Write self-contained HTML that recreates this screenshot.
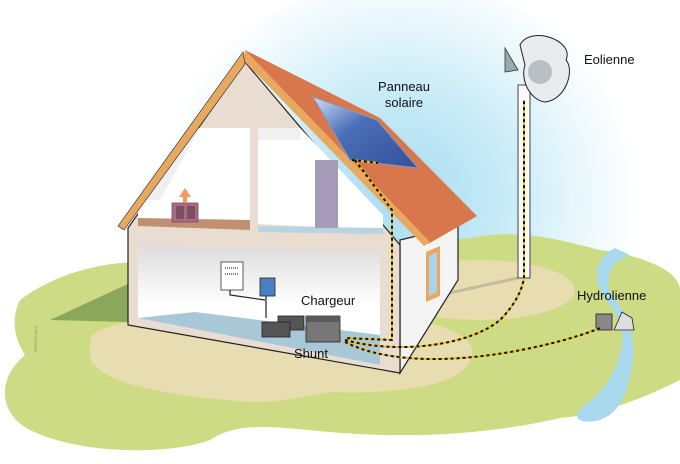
<!DOCTYPE html>
<html><head><meta charset="utf-8"><style>
html,body{margin:0;padding:0;background:#fff;width:680px;height:464px;overflow:hidden}
text{font-family:"Liberation Sans",sans-serif;fill:#111}
</style></head><body>
<svg width="680" height="464" viewBox="0 0 680 464" xmlns="http://www.w3.org/2000/svg">
<defs>
<radialGradient id="sky" cx="400" cy="200" r="240" gradientUnits="userSpaceOnUse">
<stop offset="0" stop-color="#a8dcf0"/><stop offset="0.45" stop-color="#c8ebf7"/><stop offset="0.8" stop-color="#eef9fd"/><stop offset="1" stop-color="#fff"/>
</radialGradient>
<linearGradient id="room" x1="0" y1="0" x2="0" y2="1"><stop offset="0" stop-color="#dcdcdc"/><stop offset="0.5" stop-color="#fff"/></linearGradient>
<linearGradient id="pan" x1="0" y1="0" x2="1" y2="1"><stop offset="0" stop-color="#cfe0f5"/><stop offset="0.4" stop-color="#4a6fb8"/><stop offset="1" stop-color="#34509a"/></linearGradient>
</defs>
<rect width="680" height="464" fill="#fff"/>
<ellipse cx="400" cy="200" rx="240" ry="220" fill="url(#sky)"/>
<!-- ground -->
<path d="M20,300 C60,270 110,262 140,262 L470,238 C520,228 560,240 600,250 C640,255 680,270 680,290 L680,380 C640,400 600,415 560,418 C500,432 420,440 330,432 C280,428 240,420 210,440 C170,455 80,455 30,430 C0,415 -5,380 25,355 C15,340 10,320 20,300 Z" fill="#cddc84"/>
<path d="M50,320 L130,283 L130,322 Z" fill="#8ba85a"/>
<path d="M90,340 C90,320 200,310 300,312 C420,312 470,330 472,350 C475,380 420,395 330,392 C290,400 260,405 230,400 C160,395 90,380 90,355 Z" fill="#e8ddb0"/>
<ellipse cx="480" cy="290" rx="95" ry="30" fill="#e8ddb0"/>
<!-- river -->
<path d="M615,248 C600,255 592,270 600,290 C612,310 625,320 622,345 C618,370 605,390 585,405 C568,418 580,425 600,420 C622,412 628,390 632,365 C638,335 625,312 610,292 C604,278 610,262 630,255 Z" fill="#a8d9ef"/>
<path d="M518,278 L440,295" stroke="#a8a890" stroke-width="3" opacity="0.6"/>
<!-- house side wall -->
<path d="M400,240 L458,226 L458,280 L400,373 Z" fill="#f4f4f4" stroke="#222" stroke-width="1.2"/>
<path d="M426,252 L440,246 L440,296 L426,302 Z" fill="#e8a860"/>
<path d="M429,256 L437,252 L437,292 L429,296 Z" fill="#a8d4ec"/>
<!-- front facade -->
<path d="M128,228 L245,62 L400,245 L400,373 L128,325 Z" fill="#e8ddd0" stroke="#222" stroke-width="1.2"/>
<!-- upper rooms -->
<path d="M138,222 L138,200 L190,128 L250,128 L250,224 Z" fill="#fff"/>
<path d="M258,224 L258,128 L300,128 L383,215 L383,230 Z" fill="#fff"/>
<path d="M138,200 L190,128 L200,128 L160,200 Z" fill="#efefef"/>
<path d="M258,128 L300,128 L300,140 L258,140 Z" fill="#f0f0f0"/>
<path d="M138,218 L250,220 L250,230 L138,226 Z" fill="#c09070"/>
<path d="M258,226 L383,228 L383,234 L258,232 Z" fill="#b8d4e0"/>
<rect x="315" y="160" width="23" height="68" fill="#a59ab8"/>
<rect x="172" y="203" width="26" height="19" fill="#a86a8a" stroke="#7a4a60" stroke-width="0.8"/>
<rect x="176" y="206" width="8" height="13" fill="#7a5060"/><rect x="187" y="206" width="8" height="13" fill="#7a5060"/>
<path d="M179,197 L185,188 L191,197 Z" fill="#f09a60"/><rect x="183" y="197" width="4" height="6" fill="#f09a60"/>
<!-- lower room -->
<path d="M138,245 L380,252 L380,365 L138,318 Z" fill="url(#room)"/>
<path d="M138,318 L195,312 L380,335 L380,365 Z" fill="#a8c8d8"/>
<!-- roof -->
<path d="M245,50 L380,118 L477,216 L428,244 L245,60 Z" fill="#d8764c"/>
<path d="M245,50 L430,242 L424,246 L243,60 Z" fill="#e8a860"/>
<path d="M243,52 L118,226 L124,230 L245,64 Z" fill="#e8a860" stroke="#222" stroke-width="0.6"/>
<path d="M313,97 L377,120 L418,168 L350,160 Z" fill="url(#pan)" stroke="#8899bb" stroke-width="1"/>
<!-- equipment -->
<rect x="221" y="262" width="22" height="28" fill="#fff" stroke="#333" stroke-width="0.8"/>
<path d="M225,268 H239 M225,274 H239" stroke="#555" stroke-width="1.5" stroke-dasharray="1,1"/>
<rect x="260" y="278" width="15" height="18" fill="#4a80c0" stroke="#223" stroke-width="0.8"/>
<path d="M230,290 L230,295 L265,300 M266,296 L266,318" stroke="#222" stroke-width="1.2" fill="none"/>
<rect x="278" y="316" width="26" height="14" fill="#555" stroke="#222" stroke-width="0.8"/>
<rect x="262" y="322" width="28" height="15" fill="#555" stroke="#222" stroke-width="0.8"/>
<rect x="306" y="316" width="34" height="26" fill="#777" stroke="#222" stroke-width="0.8"/>
<rect x="306" y="316" width="34" height="6" fill="#5a5a5a"/>
<!-- tower -->
<rect x="518" y="85" width="12" height="193" fill="#fafafa" stroke="#444" stroke-width="1"/>
<path d="M505,48 L512,60 L518,70 L505,72 Z" fill="#9aa" stroke="#333" stroke-width="0.8"/>
<path d="M520,45 C530,25 575,40 566,60 C575,70 566,100 545,102 C530,100 520,80 525,65 Z" fill="#e9ecee" stroke="#222" stroke-width="1"/>
<circle cx="540" cy="72" r="12" fill="#b8bfc4"/>
<!-- hydro -->
<rect x="596" y="314" width="16" height="16" fill="#888" stroke="#222" stroke-width="0.8"/>
<path d="M614,330 L622,312 L632,318 L634,330 Z" fill="#ddd" stroke="#222" stroke-width="0.8"/>
<!-- cables -->
<g fill="none" stroke="#111" stroke-width="2">
<path d="M352,160 L378,163 M355,160 L392,210 L392,340 L345,338" stroke="#f0c020"/>
<path d="M352,160 L378,163 M355,160 L392,210 L392,340 L345,338" stroke-dasharray="3,3"/>
<path d="M345,340 C400,355 470,345 500,320 C515,305 522,290 524,278 L524,100" stroke="#f0c020"/>
<path d="M345,340 C400,355 470,345 500,320 C515,305 522,290 524,278 L524,100" stroke-dasharray="3,3"/>
<path d="M345,342 C420,380 560,345 600,328" stroke="#f0c020"/>
<path d="M345,342 C420,380 560,345 600,328" stroke-dasharray="3,3"/>
</g>
<text x="404" y="91" font-size="13" text-anchor="middle">Panneau</text>
<text x="404" y="107" font-size="13" text-anchor="middle">solaire</text>
<text x="584" y="64" font-size="13">Eolienne</text>
<text x="577" y="300" font-size="13">Hydrolienne</text>
<text x="301" y="305" font-size="13">Chargeur</text>
<text x="294" y="358" font-size="13">Shunt</text>
<text x="0" y="0" font-size="4" transform="translate(37,352) rotate(-90)" style="fill:#889060">MOCOM 2013</text>
</svg>
</body></html>
